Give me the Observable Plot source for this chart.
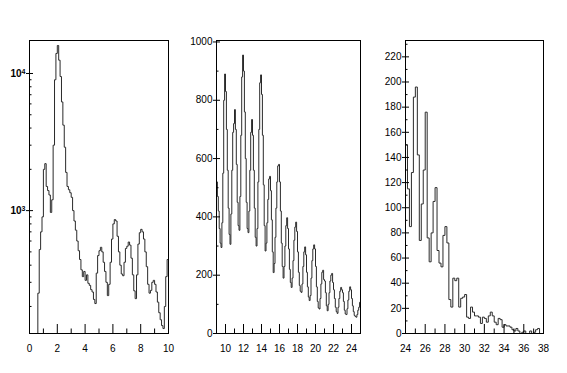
<!DOCTYPE html>
<html><head><meta charset="utf-8">
<script src="https://cdn.jsdelivr.net/npm/d3@7"></script>
<script src="https://cdn.jsdelivr.net/npm/@observablehq/plot@0.6"></script>
<style>
body{margin:0;background:#fff;}
#root{position:relative;width:567px;height:373px;overflow:hidden;background:#fff;}
#root > svg{position:absolute;top:0;}
</style></head><body><div id="root"></div>
<script>
// ---------- Panel 1 (log y), bins of 0.1 from 0 to 10 ----------
const p1Start = 0, p1Bin = 0.1;
const p1Counts = [
  0,0,0,0,0,0,250,520,700,900,
  2000,2200,1500,1400,1300,970,1200,3000,9000,14000,
  16000,12500,9500,6200,4200,2900,1900,1500,1420,1350,
  1250,1000,840,720,600,510,440,370,330,360,
  310,340,295,285,265,255,225,210,350,470,
  510,540,500,420,360,300,240,290,420,620,
  800,860,840,650,500,400,345,335,420,530,
  550,590,560,450,340,260,228,340,570,690,
  730,700,620,500,390,290,250,262,300,310,
  290,255,215,180,160,145,138,200,330,440
];
const p1XTicks = [0, 2, 4, 6, 8, 10];
const p1XMinor = [1, 3, 5, 7, 9];
const p1YTicks = [1000, 10000];
const p1YBase = "10";
const p1YExp = ["3", "4"];
const p1YMinor = [200,300,400,500,600,700,800,900,2000,3000,4000,5000,6000,7000,8000,9000];

// ---------- Panel 2 (linear y), bins of 0.1 from 9 to 25 ----------
const p2Start = 9, p2Bin = 0.1;
const p2Counts = [
  520,470,420,360,310,295,380,550,800,890,
  830,700,560,430,340,306,410,560,690,720,
  768,700,580,450,370,354,470,680,880,955,
  900,760,600,450,360,346,420,560,690,734,
  680,560,430,330,300,360,520,700,860,887,
  820,680,510,370,283,310,380,460,530,539,
  490,390,280,209,240,330,430,520,575,580,
  520,420,310,230,190,230,300,370,397,360,
  290,220,175,158,190,250,320,365,382,350,
  280,210,165,145,141,170,230,280,297,270,
  210,160,125,113,130,190,250,290,304,290,
  230,160,110,88,84,120,170,210,217,185,
  180,140,95,78,100,140,180,200,206,175,
  150,120,90,75,69,90,120,145,158,150,
  140,110,80,67,65,85,115,145,160,150,
  120,95,75,62,58,56,65,80,90,107
];
const p2XTicks = [10, 12, 14, 16, 18, 20, 22, 24];
const p2XMinor = [9, 11, 13, 15, 17, 19, 21, 23, 25];
const p2YTicks = [0, 200, 400, 600, 800, 1000];
const p2YMinor = [100, 300, 500, 700, 900];

// ---------- Panel 3 (linear y), bins of 0.2 from 24 to 38 ----------
const p3Start = 24, p3Bin = 0.2;
const p3Counts = [
  150,115,85,128,188,196,142,74,103,130,
  176,76,57,80,105,116,66,56,53,78,
  85,72,27,21,44,42,44,21,28,29,
  31,13,12,21,17,14,14,13,8,13,
  12,9,14,17,14,9,7,12,11,5,
  7,6,6,5,3,2,4,2,0,1,
  2,0,0,2,0,1,3,4,0,0
];
const p3XTicks = [24, 26, 28, 30, 32, 34, 36, 38];
const p3XMinor = [25, 27, 29, 31, 33, 35, 37];
const p3YTicks = [0,20,40,60,80,100,120,140,160,180,200,220];
const p3YMinor = [10,30,50,70,90,110,130,150,170,190,210,230];

const FONT = "'Liberation Sans', Arial, Helvetica, sans-serif";
const H = 373, MT = 40, MB = 40;

function panel({counts, start, bin, xDomain, yDomain, yType, xTicks, xMinor, yTicks, yFormat, yMinor, left, width, ml, mr}) {
  const yMin = yDomain[0];
  const pts = counts.map((v, i) => ({x: start + i * bin, y: yType === "log" ? (v > 0 ? v : yMin) : v}));
  pts.push({x: start + counts.length * bin, y: pts[pts.length - 1].y});
  const fh = H - MT - MB, fw = width - ml - mr;
  const svg = Plot.plot({
    width, height: H,
    marginLeft: ml, marginRight: mr, marginTop: MT, marginBottom: MB,
    style: {fontFamily: FONT, fontSize: "10px", color: "black", background: "transparent"},
    x: {domain: xDomain, label: null},
    y: {domain: yDomain, type: yType, label: null},
    marks: [
      Plot.line(pts, {x: "x", y: "y", curve: "step-after", stroke: "#2a2a2a", strokeWidth: 1}),
      Plot.ruleX(xTicks, {insetTop: fh - 9, stroke: "black"}),
      Plot.ruleX(xMinor, {insetTop: fh - 4.5, stroke: "black"}),
      Plot.ruleY(yMinor, {insetRight: fw - 2.5, stroke: "black"}),
      Plot.ruleY(yTicks, {insetRight: fw - 4, stroke: "black"}),
      Plot.frame({stroke: "black", strokeWidth: 1}),
      Plot.axisX(xTicks, {tickSize: 0, tickPadding: 11, fontSize: 10, label: null}),
      Plot.axisY(yTicks, {tickSize: 3, tickPadding: 1, fontSize: 10, tickFormat: yFormat, label: null})
    ]
  });
  svg.style.left = left + "px";
  return svg;
}

const root = document.getElementById("root");
const svg1 = panel({
  counts: p1Counts, start: p1Start, bin: p1Bin, xDomain: [0, 10], yDomain: [127, 17400], yType: "log",
  xTicks: p1XTicks, xMinor: p1XMinor, yTicks: p1YTicks,
  yFormat: d => p1YBase + "^" + p1YExp[p1YTicks.indexOf(d)], yMinor: p1YMinor,
  left: 0, width: 189, ml: 29, mr: 21
});
// turn "10^n" labels into 10 with a superscript exponent
d3.select(svg1).selectAll("text").each(function() {
  const t = this.textContent;
  if (t.includes("^")) {
    const [b, e] = t.split("^");
    const sel = d3.select(this);
    sel.text(null).style("font-weight", "bold");
    sel.append("tspan").text(b);
    sel.append("tspan").attr("dy", "-0.45em").attr("font-size", "7px").text(e);
  }
});
root.appendChild(svg1);
root.appendChild(panel({
  counts: p2Counts, start: p2Start, bin: p2Bin, xDomain: [9, 25], yDomain: [0, 1005], yType: "linear",
  xTicks: p2XTicks, xMinor: p2XMinor, yTicks: p2YTicks, yFormat: d => String(d), yMinor: p2YMinor,
  left: 189, width: 189, ml: 27, mr: 18
}));
root.appendChild(panel({
  counts: p3Counts, start: p3Start, bin: p3Bin, xDomain: [24, 38], yDomain: [0, 233], yType: "linear",
  xTicks: p3XTicks, xMinor: p3XMinor, yTicks: p3YTicks, yFormat: d => String(d), yMinor: p3YMinor,
  left: 378, width: 189, ml: 27, mr: 24
}));
</script></body></html>
